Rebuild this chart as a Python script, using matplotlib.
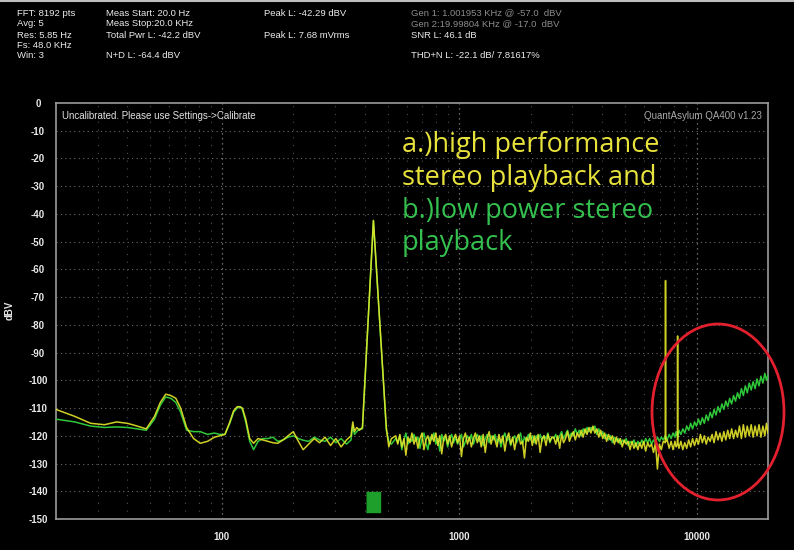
import matplotlib
matplotlib.use("Agg")
import matplotlib.pyplot as plt
from matplotlib.patches import Ellipse

# frequency bins (Hz), shared by both traces
freq_hz = [
    20, 24, 28, 32, 36, 40, 44, 48, 52, 55,
    58, 61, 64, 67, 71, 76, 81, 87, 93, 98,
    103, 108, 112, 116, 119, 122, 126, 131, 136, 142,
    149, 156, 164, 172, 181, 190, 200, 210, 220, 232,
    245, 258, 272, 287, 302, 318, 335, 350, 356, 362,
    370, 380, 391, 400, 410, 420, 428, 435, 442, 450,
    460, 470, 482, 493, 505, 518,
    540, 551, 562, 573, 585, 596, 608, 620, 632, 645,
    657, 670, 683, 697, 710, 724, 738, 753, 767, 782,
    797, 813, 828, 844, 860, 877, 894, 911, 929, 947,
    965, 984, 1003, 1022, 1042, 1062, 1083, 1104, 1125, 1147,
    1169, 1192, 1215, 1238, 1262, 1287, 1311, 1337, 1362, 1389,
    1415, 1443, 1470, 1499, 1527, 1557, 1586, 1617, 1648, 1680,
    1712, 1745, 1778, 1813, 1847, 1883, 1919, 1956, 1993, 2032,
    2070, 2110, 2150, 2192, 2233, 2276, 2320, 2365, 2410, 2456,
    2503, 2551, 2600, 2650, 2700, 2752, 2805, 2859, 2913, 2969,
    3026, 3084, 3143, 3204, 3265, 3327, 3391, 3456, 3522, 3590,
    3658, 3728, 3800, 3873, 3947, 4023, 4099, 4178, 4258, 4340,
    4422, 4507, 4593, 4681, 4771, 4863, 4955, 5050, 5147, 5246,
    5346, 5449, 5552, 5659, 5767, 5878, 5990, 6105, 6221, 6340,
    6462, 6586, 6712, 6841, 6971, 7105, 7240, 7380, 7400, 7420,
    7520, 7665, 7811, 7961, 8113, 8200, 8300, 8320, 8340, 8426,
    8588, 8752, 8920, 9090, 9264, 9441, 9622, 9806, 9994, 10185,
    10380, 10578, 10781, 10987, 11197, 11411, 11630, 11852, 12079, 12310,
    12545, 12785, 13030, 13279, 13533, 13792, 14056, 14325, 14599, 14878,
    15163, 15453, 15749, 16050, 16357, 16670, 16989, 17313, 17645, 17982,
    18326, 18677, 19034, 19398, 19700, 20000,
]

# a.) high performance stereo playback (yellow)
high_perf_dbv = [
    -110.5, -113, -115.5, -116, -115, -115.5, -116.5, -117.5, -113, -108,
    -105, -105.5, -106.5, -110, -117, -121, -122.7, -122, -120.5, -120,
    -119.5, -115, -111, -109.5, -109.5, -110, -114, -121, -122.7, -121,
    -121.5, -122, -122.5, -122.7, -121.5, -120, -118.5, -122, -125, -123,
    -121, -122.5, -120.5, -123.5, -121, -124, -121.5, -120, -115, -118.5,
    -117, -118, -117, -101, -83.6, -66.8, -53.3, -42.3, -51.8, -62.6,
    -75.8, -88.7, -103.6, -117, -124, -121,
    -120, -123, -119.5, -124, -121, -127, -120.5, -122.5, -119, -123,
    -120.5, -124.5, -121, -119, -125, -121.5, -120, -123, -119.5, -122,
    -119, -123.5, -120, -126.5, -121, -119.5, -123, -120, -124, -121,
    -119.5, -122.5, -120, -127.5, -121, -119, -123, -120.5, -124, -121,
    -119, -122.5, -120, -124, -119.5, -126, -121, -118.5, -123, -120,
    -121.5, -124, -119.5, -122.5, -120, -125.5, -121, -119, -123, -120.5,
    -125, -121, -119.5, -123, -122, -128, -120.5, -122, -119, -123.5,
    -120, -123, -119.5, -126, -121, -120, -123.5, -119.5, -122, -120.5,
    -120.5, -123, -120, -124.5, -119.5, -122.5, -121, -118.5, -122, -120,
    -118.5, -121.5, -119, -120.5, -118, -120.5, -117.5, -119.5, -117, -119,
    -116.5, -119, -117.5, -120.5, -118, -121, -119, -122, -119.5, -121.5,
    -120, -123, -120.5, -122.5, -121, -124, -121.5, -123, -122, -125,
    -122, -124.5, -122.5, -125, -122.5, -124.5, -122, -125.5, -122.5, -124,
    -123, -126, -122.5, -132, -123, -125, -122, -122.5, -64, -122,
    -121.5, -124.5, -122, -125, -122, -124, -123, -84, -122.5, -124.5,
    -122, -125, -122.5, -124.5, -121.5, -124, -121, -123.5, -121, -123,
    -119.5, -122.5, -120, -123, -120.5, -122, -119.5, -122.5, -118.5, -121.5,
    -119, -122, -118.5, -121.5, -118, -121, -117.5, -121, -118, -120.5,
    -116.5, -121, -116, -120.5, -116.5, -120, -116, -120.5, -116.5, -120,
    -116, -120.5, -116.5, -120, -115.5, -119,
]

# b.) low power stereo playback (green)
low_power_dbv = [
    -114, -115, -116.5, -117, -116.8, -117, -117.5, -118, -114, -109,
    -106, -106.5, -108, -111.5, -118, -118.5, -118.5, -119.5, -119, -119.5,
    -119.5, -115.5, -111.5, -110, -109.5, -110.5, -115, -122, -125, -122,
    -121, -121, -120.5, -122, -121.5, -120.5, -120, -121, -121.6, -122,
    -120.5, -121.5, -122, -120.5, -122.5, -121, -123, -121.5, -116.5, -119.5,
    -118.5, -117.5, -117.5, -101.5, -84, -67, -53.5, -42.5, -52, -63,
    -76, -89, -104, -118, -122, -123,
    -121, -122.5, -120, -125, -121.5, -119, -123, -121, -122, -119.5,
    -122, -120.5, -124.5, -121, -119, -122.5, -125, -120.5, -121.5, -119,
    -123, -121, -125.5, -119.5, -122, -120.5, -124, -121, -119.5, -122.5,
    -120.5, -123, -121, -119.5, -124, -122, -120, -121.5, -119.5, -123,
    -121, -119.5, -122, -120, -123.5, -121, -119.5, -122.5, -120, -121.5,
    -119.5, -122.5, -120.5, -124, -121, -119, -122, -120.5, -123.5, -121,
    -120, -122.5, -121, -119, -123, -120.5, -122, -119.5, -121.5, -120,
    -122.5, -120, -121.5, -119.5, -122, -120, -121, -119, -122.5, -120.5,
    -121, -119.5, -122, -120, -118.5, -121, -119.5, -118, -120.5, -119,
    -120, -117.5, -119.5, -118, -120, -117.5, -119, -117, -118.5, -117,
    -118, -116.5, -119.5, -117.5, -120, -118.5, -121, -119.5, -121.5, -120,
    -122.5, -120.5, -122, -121, -123, -121.5, -122.5, -121, -123.5, -122,
    -123, -121.5, -124, -122, -123.5, -121.5, -123, -121, -122.5, -121,
    -123, -121.5, -122.5, -120.5, -122, -120.5, -121.5, -120, -121, -120.5,
    -121.5, -119.5, -121, -119, -120.5, -118.5, -120, -119, -120.5, -118,
    -119.5, -117.5, -119, -116.5, -118, -115.5, -117.5, -115, -116.5, -114,
    -116, -113.5, -115.5, -112.5, -114.5, -111.5, -113.5, -110.5, -112.5, -109.5,
    -111.5, -108.5, -110.5, -107.5, -109.5, -106.5, -108.5, -105.5, -107.5, -104.5,
    -106.5, -103, -105.5, -102, -104.5, -101, -103.5, -100.5, -103, -99.5,
    -102, -98.5, -101, -97.5, -100, -98,
]

y_ticks = list(range(0, -160, -10))
x_ticks = [100, 1000, 10000]
x_minor = [30, 40, 50, 60, 70, 80, 90, 200, 300, 400, 500, 600, 700, 800, 900,
           2000, 3000, 4000, 5000, 6000, 7000, 8000, 9000]
marker_freq = 435

header_cols = [
    (17, ["FFT: 8192 pts", "Avg: 5", "Res: 5.85 Hz", "Fs: 48.0 KHz", "Win: 3"]),
    (106, ["Meas Start: 20.0 Hz", "Meas Stop:20.0 KHz", "Total Pwr L: -42.2 dBV", "", "N+D L: -64.4 dBV"]),
    (264, ["Peak L: -42.29 dBV", "", "Peak L: 7.68 mVrms", "", ""]),
]
gen_lines = ["Gen 1: 1.001953 KHz @ -57.0  dBV", "Gen 2:19.99804 KHz @ -17.0  dBV"]

plt.rcParams['font.family'] = ['Liberation Sans', 'DejaVu Sans']

W, H = 794, 550
fig = plt.figure(figsize=(W / 100, H / 100), dpi=100, facecolor="black")
ax = fig.add_axes([56 / W, 1 - 519 / H, (768 - 56) / W, (519 - 103) / H])
ax.set_facecolor("black")

ax.set_xscale("log")
ax.set_xlim(20, 20000)
ax.set_ylim(-150, 0)

# dotted grid like the analyzer screen
for y in y_ticks[1:-1]:
    ax.axhline(y, color="#6a6a6a", lw=0.8, ls=(0, (1, 3)), zorder=1)
for x in x_minor:
    ax.axvline(x, color="#4e4e4e", lw=0.8, ls=(0, (1, 6)), zorder=1)
for x in x_ticks:
    ax.axvline(x, color="#8a8a8a", lw=0.9, ls=(0, (1, 3)), zorder=1)

ax.plot(freq_hz, low_power_dbv, color="#2fc83a", lw=1.1, zorder=3)
ax.plot(freq_hz, high_perf_dbv, color="#e6e62a", lw=1.1, alpha=0.9, zorder=4)
ax.plot([marker_freq], [-144], marker=[(-0.7, -1), (0.7, -1), (0.7, 1), (-0.7, 1)],
        markersize=15, color="#1e9e2a", zorder=5)

for s in ax.spines.values():
    s.set_color("#9a9a9a")
    s.set_linewidth(1.2)

ax.set_xticks(x_ticks)
ax.set_xticklabels([str(x) for x in x_ticks])
ax.set_xticks([], minor=True)
ax.set_yticks(y_ticks)
ax.set_yticklabels([str(y) for y in y_ticks])
ax.tick_params(length=0, colors="#e8e8e8", labelsize=7)
ax.tick_params(axis="y", pad=13)
ax.tick_params(axis="x", pad=9)
for lab in ax.get_yticklabels():
    lab.set_ha("center")
    lab.set_fontweight("bold")
for lab in ax.get_xticklabels():
    lab.set_fontweight("bold")

fig.text(10 / W, 1 - 310 / H, "dBV", rotation=90, color="#e8e8e8", fontsize=7,
         fontweight="bold", ha="center", va="center")

ax.text(6 / 712, 1 - 13 / 416, "Uncalibrated. Please use Settings->Calibrate",
        transform=ax.transAxes, color="#e0e0e0", fontsize=7, va="center")
ax.text(1 - 6 / 712, 1 - 13 / 416, "QuantAsylum QA400 v1.23",
        transform=ax.transAxes, color="#a8a8a8", fontsize=7, ha="right", va="center")

# header readout
rows_y = [13, 24, 35, 45.5, 56]
for x0, lines in header_cols:
    for yy, t in zip(rows_y, lines):
        if t:
            fig.text(x0 / W, 1 - yy / H, t, color="#ececec", fontsize=6.8, va="center")
for yy, t in zip(rows_y[:2], gen_lines):
    fig.text(411 / W, 1 - yy / H, t, color="#8c8c8c", fontsize=6.8, va="center")
fig.text(411 / W, 1 - rows_y[2] / H, "SNR L: 46.1 dB", color="#ececec", fontsize=6.8, va="center")
fig.text(411 / W, 1 - rows_y[4] / H, "THD+N L: -22.1 dB/ 7.81617%", color="#ececec",
         fontsize=6.8, va="center")

# annotation
note = [("a.)high performance", "#e8e23c", 145), ("stereo playback and", "#e8e23c", 178),
        ("b.)low power stereo", "#34c04e", 211), ("playback", "#34c04e", 243)]
for t, c, yy in note:
    fig.text(402 / W, 1 - yy / H, t, color=c, fontsize=19.5, family="Open Sans",
             va="center", ha="left")

fig.patches.append(Ellipse((718 / W, 1 - 412 / H), 132 / W, 176 / H,
                           transform=fig.transFigure, fill=False,
                           edgecolor="#e3202e", lw=2.0))
fig.add_artist(plt.Line2D([0, 1], [1 - 0.5 / H, 1 - 0.5 / H], color="#bdbdbd",
                          lw=1.5, transform=fig.transFigure))

fig.savefig("out.png", dpi=100, facecolor="black")
